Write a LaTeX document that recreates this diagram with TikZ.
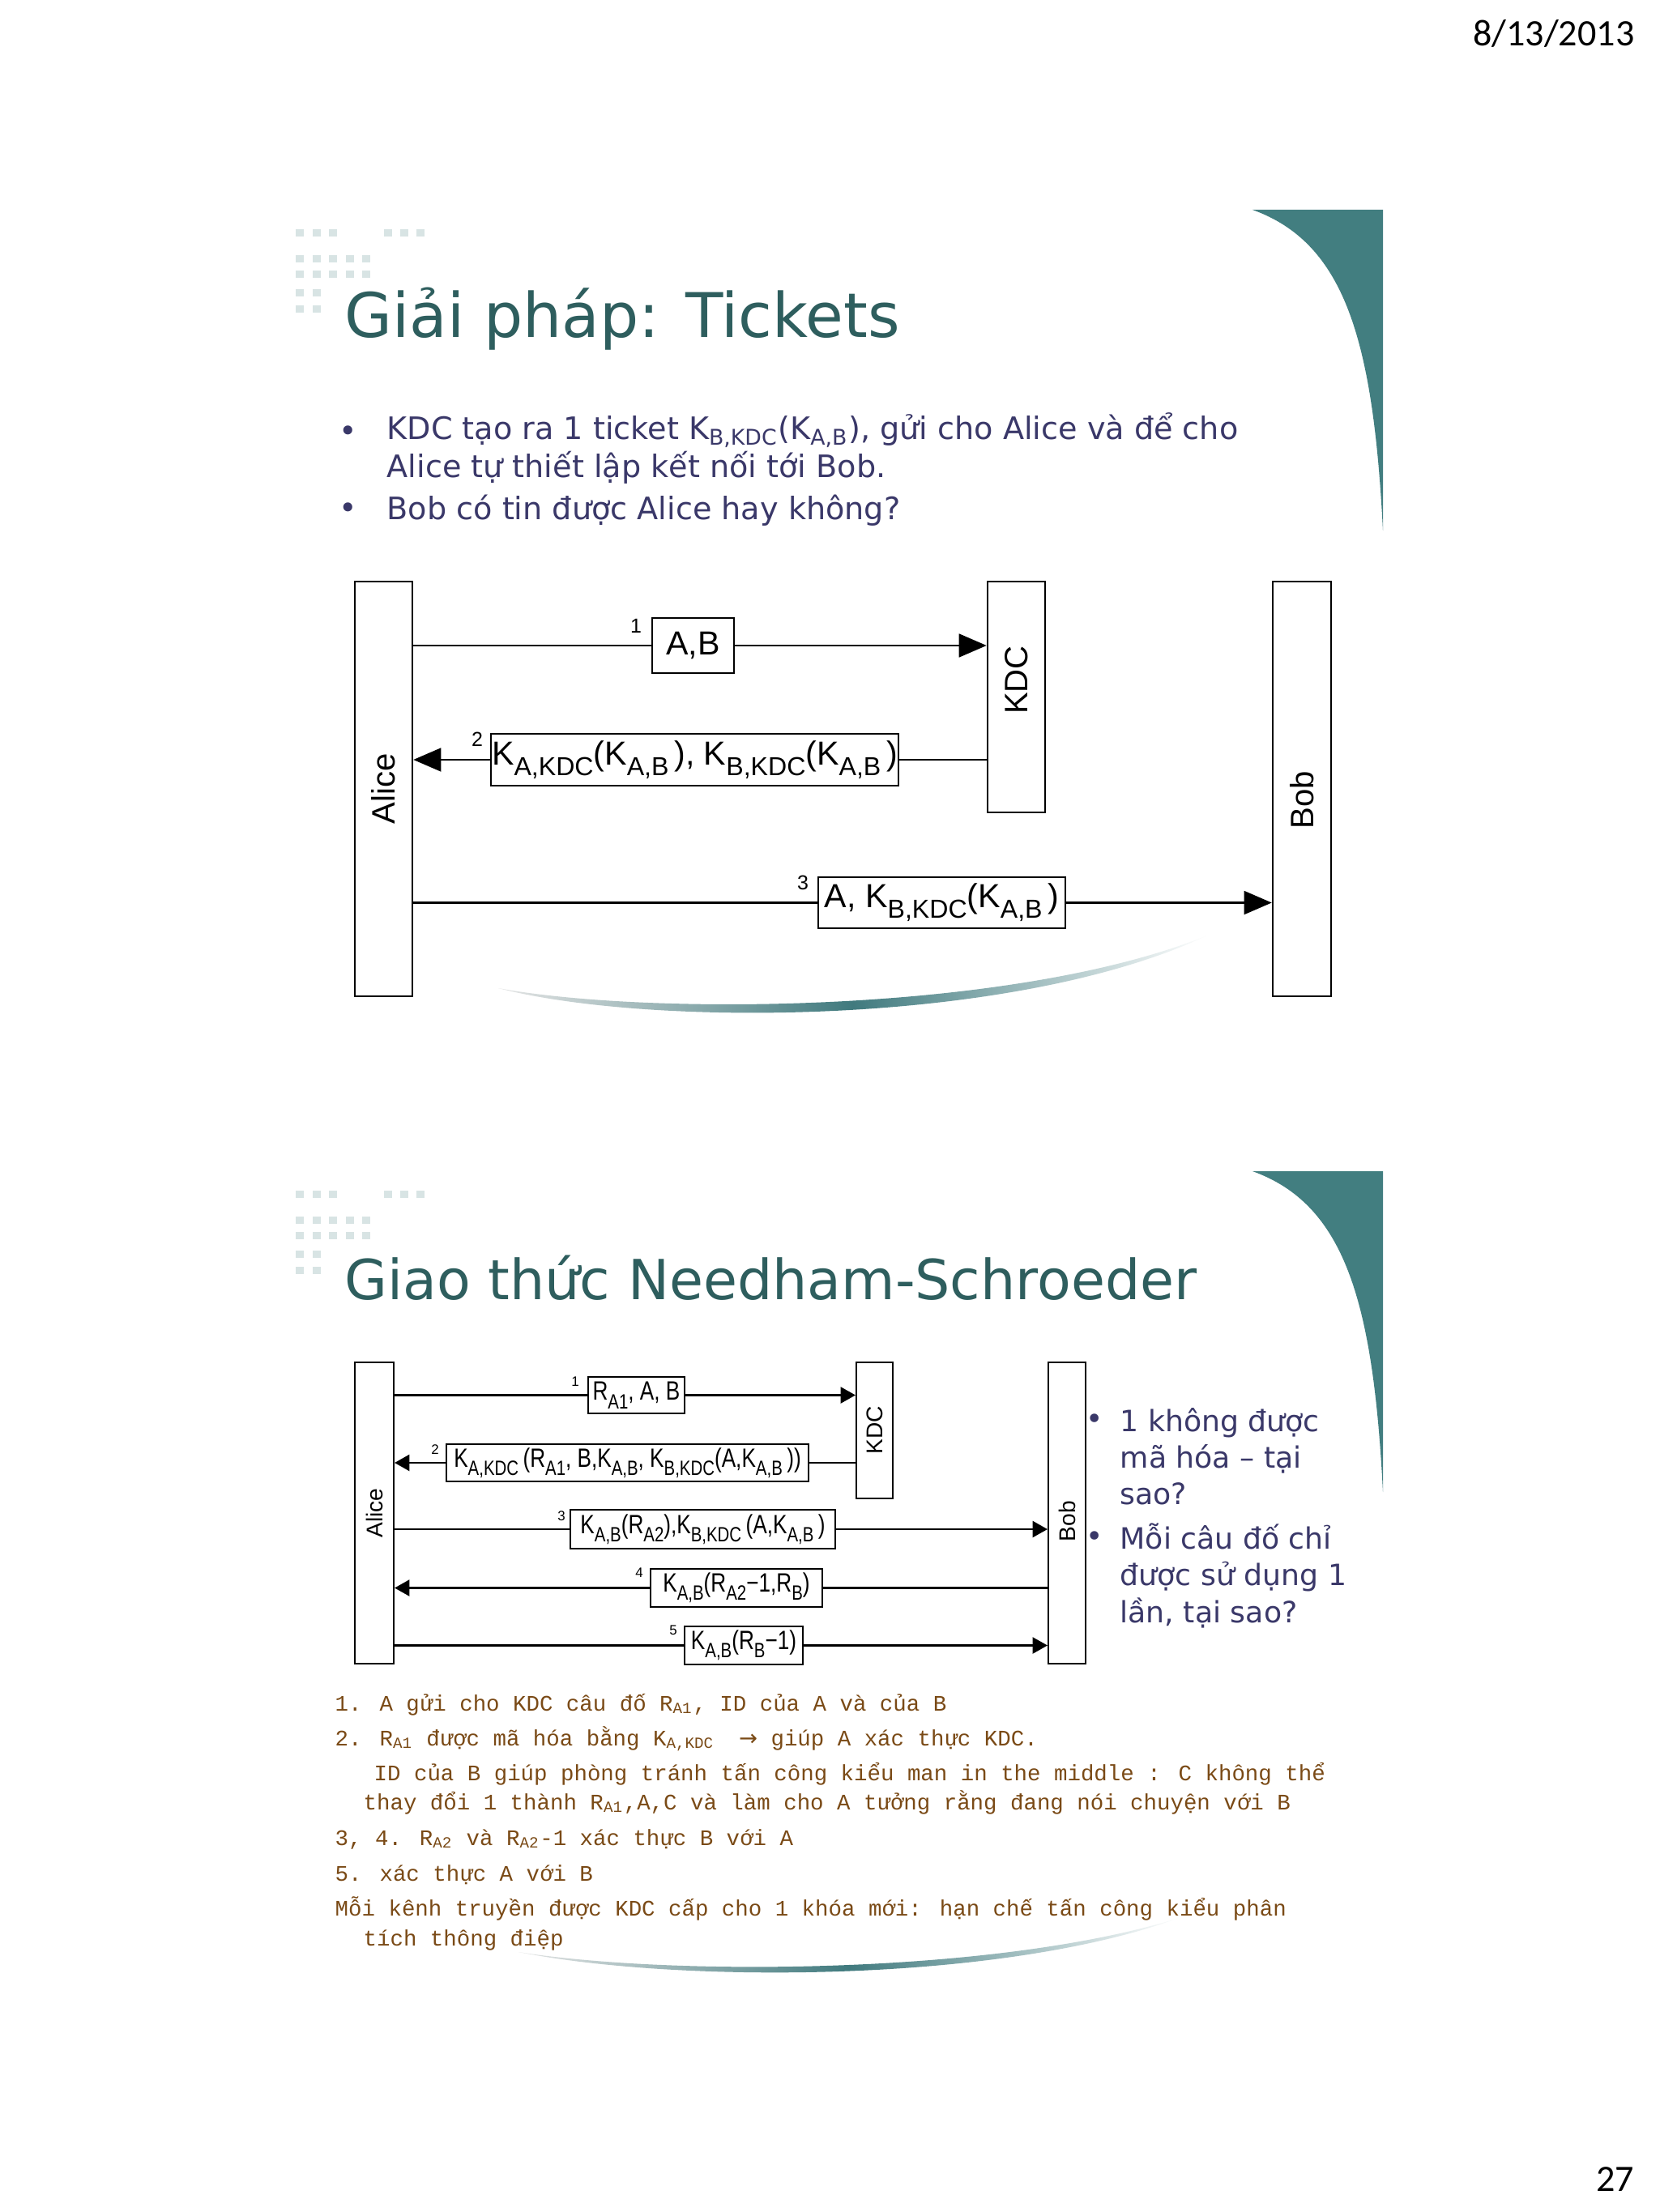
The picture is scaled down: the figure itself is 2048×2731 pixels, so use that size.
\documentclass[tikz,border=0pt]{standalone}
\usepackage{fontspec}
\usetikzlibrary{arrows.meta}
\newfontfamily\slidefont{DejaVu Sans}
\newfontfamily\figfont{Liberation Sans}
\newfontfamily\figfontB[FakeStretch=0.8]{Liberation Sans}
\newfontfamily\notefont{Liberation Mono}
\newfontfamily\datefont{Carlito}
\definecolor{wedgeteal}{RGB}{66,126,128}
\definecolor{dotgray}{RGB}{216,228,228}
\definecolor{swooshteal}{RGB}{64,122,126}
\definecolor{titleteal}{RGB}{46,94,94}
\definecolor{bodyblue}{RGB}{58,56,105}
\definecolor{notebrown}{RGB}{122,74,22}
\newcommand{\fsub}[1]{\raisebox{-0.32em}{\scalebox{0.78}{#1}}}

\begin{document}
\begin{tikzpicture}[x=0.01cm, y=-0.01cm,
  actorA/.style={draw, line width=0.7pt, inner sep=0pt, font=\figfont\fontsize{11.4}{13}\selectfont},
  actorB/.style={draw, line width=0.6pt, inner sep=0pt, font=\figfont\fontsize{8}{9.6}\selectfont},
  msgA/.style={draw, line width=0.7pt, inner sep=0pt, font=\figfont\fontsize{11.7}{14}\selectfont},
  msgB/.style={draw, line width=0.6pt, inner sep=0pt, font=\figfontB\fontsize{9.3}{11}\selectfont},
  numA/.style={inner sep=0pt, font=\figfont\fontsize{7.1}{8}\selectfont},
  numB/.style={inner sep=0pt, font=\figfont\fontsize{4.8}{6}\selectfont},
  lineA/.style={line width=0.7pt, >={Triangle[length=9.7pt,width=8.2pt]}},
  lineB/.style={line width=0.6pt, >={Triangle[length=5.2pt,width=5.7pt]}},
  slidetitle/.style={inner sep=0pt, anchor=base west, text=titleteal},
  bodytext/.style={inner sep=0pt, anchor=base west, text=bodyblue},
  notetext/.style={inner sep=0pt, anchor=base west, text=notebrown, font=\notefont\fontsize{7.8}{9}\selectfont},
  pagenum/.style={inner sep=0pt, anchor=base east, font=\datefont\fontsize{13.1}{15}\selectfont},
  swoosh/.style={left color=black!10, right color=white, middle color=swooshteal}]
\fill[white] (0,0) rectangle (2048,2731);
\useasboundingbox (0,0) rectangle (2048,2731);

% slide decoration
\foreach \dy in {0,1187}{
  \foreach \x in {365,386,406,474,494,514} \fill[dotgray] (\x,283+\dy) rectangle ++(10,9);
  \foreach \x in {365,386,406,427,447} \fill[dotgray] (\x,315+\dy) rectangle ++(10,9);
  \foreach \x in {365,386,406,427,447} \fill[dotgray] (\x,334+\dy) rectangle ++(10,9);
  \foreach \x in {365,386} \fill[dotgray] (\x,357+\dy) rectangle ++(10,9);
  \foreach \x in {365,386} \fill[dotgray] (\x,377+\dy) rectangle ++(10,9);
  \fill[wedgeteal] (1546,259+\dy) -- (1707,259+\dy) -- (1707,655+\dy)
    .. controls (1695,420+\dy) and (1660,300+\dy) .. (1546,259+\dy) -- cycle; %goc phai
}
\shade[swoosh]
  (615,1220) .. controls (800,1268) and (1250,1268) .. (1490,1155)
  .. controls (1250,1252) and (800,1254) .. (615,1220) -- cycle;
\shade[swoosh]
  (640,2410) .. controls (830,2448) and (1230,2450) .. (1455,2368)
  .. controls (1230,2438) and (830,2440) .. (640,2410) -- cycle;

\node[pagenum] (date) at (2018,57) {8/13/2013};
\node[pagenum] (page) at (2018,2705) {27};

% slide 1
\node[slidetitle, font=\slidefont\fontsize{21.6}{26}\selectfont] (title1) at (425,417) {Giải pháp: Tickets};
\node[bodytext, anchor=center, font=\slidefont\fontsize{10.85}{13}\selectfont] (dot1) at (430,536) {•};
\node[bodytext, anchor=center, font=\slidefont\fontsize{10.85}{13}\selectfont] (dot2) at (430,631) {•};
\node[bodytext, font=\slidefont\fontsize{10.85}{13}\selectfont] (b1) at (477,543) {KDC tạo ra 1 ticket K\textsubscript{B,KDC}(K\textsubscript{A,B}), gửi cho Alice và để cho};
\node[bodytext, font=\slidefont\fontsize{10.85}{13}\selectfont] (b2) at (477,590) {Alice tự thiết lập kết nối tới Bob.};
\node[bodytext, font=\slidefont\fontsize{10.85}{13}\selectfont] (b3) at (477,641) {Bob có tin được Alice hay không?};

\node[actorA, minimum width=7.1mm, minimum height=51.2mm] (alice1) at (473.5,974) {\rotatebox{90}{Alice}};
\node[actorA, minimum width=7.1mm, minimum height=28.5mm] (kdc1) at (1254.5,860.5) {\rotatebox{90}{\hspace{4.2mm}KDC}};
\node[actorA, minimum width=7.2mm, minimum height=51.2mm] (bob1) at (1607,974) {\rotatebox{90}{Bob\hspace{2.7mm}}};

\node[msgA, minimum width=10.1mm, minimum height=6.8mm] (m1) at (855.5,797) {A,B};
\node[msgA, minimum width=50.3mm, minimum height=6.4mm] (m2) at (857.5,938) {K\fsub{A,KDC}(K\fsub{A,B}\,), K\fsub{B,KDC}(K\fsub{A,B}\,)};
\node[msgA, minimum width=30.5mm, minimum height=6.3mm] (m3) at (1162.5,1114.5) {A, K\fsub{B,KDC}(K\fsub{A,B}\,)};
\node[numA] (n1) at (785,773) {1};
\node[numA] (n2) at (589,913) {2};
\node[numA] (n3) at (991,1090) {3};

\draw[lineA] (alice1.east |- m1) -- (m1.west); %1
\draw[lineA,->] (m1.east) -- (kdc1.west |- m1);
\draw[lineA] (kdc1.west |- m2) -- (m2.east); %2
\draw[lineA,->] (m2.west) -- (alice1.east |- m2);
\draw[lineA] (alice1.east |- m3) -- (m3.west); %3
\draw[lineA,->] (m3.east) -- (bob1.west |- m3);

% slide 2
\node[slidetitle, font=\slidefont\fontsize{19.4}{23}\selectfont] (title2) at (425,1604) {Giao thức Needham-Schroeder};

\node[actorB, minimum width=4.8mm, minimum height=37.2mm] (alice2) at (462,1868) {\rotatebox{90}{Alice}};
\node[actorB, minimum width=4.5mm, minimum height=16.8mm] (kdc2) at (1079.5,1766) {\rotatebox{90}{KDC}};
\node[actorB, minimum width=4.6mm, minimum height=37.2mm] (bob2) at (1317,1868) {\rotatebox{90}{Bob\hspace{2mm}}};

\node[msgB, minimum width=11.9mm, minimum height=4.5mm] (r1) at (785.5,1722.5) {R\fsub{A1}, A, B};
\node[msgB, minimum width=44.7mm, minimum height=4.6mm] (r2) at (774.5,1806) {K\fsub{A,KDC}\,(R\fsub{A1}, B,K\fsub{A,B}, K\fsub{B,KDC}(A,K\fsub{A,B}\,))};
\node[msgB, minimum width=32.7mm, minimum height=4.8mm] (r3) at (867.5,1888) {K\fsub{A,B}(R\fsub{A2}),K\fsub{B,KDC}\,(A,K\fsub{A,B}\,)};
\node[msgB, minimum width=21.2mm, minimum height=4.7mm] (r4) at (909,1960.5) {K\fsub{A,B}(R\fsub{A2}−1,R\fsub{B})};
\node[msgB, minimum width=14.6mm, minimum height=4.7mm] (r5) at (918,2031.5) {K\fsub{A,B}(R\fsub{B}−1)};
\node[numB] (p1) at (710,1706) {1};
\node[numB] (p2) at (537,1790) {2};
\node[numB] (p3) at (693,1872) {3};
\node[numB] (p4) at (789,1942) {4};
\node[numB] (p5) at (831,2013) {5};

\draw[lineB] (alice2.east |- r1) -- (r1.west); %1
\draw[lineB,->] (r1.east) -- (kdc2.west |- r1);
\draw[lineB] (kdc2.west |- r2) -- (r2.east); %2
\draw[lineB,->] (r2.west) -- (alice2.east |- r2);
\draw[lineB] (alice2.east |- r3) -- (r3.west); %3
\draw[lineB,->] (r3.east) -- (bob2.west |- r3);
\draw[lineB] (bob2.west |- r4) -- (r4.east); %4
\draw[lineB,->] (r4.west) -- (alice2.east |- r4);
\draw[lineB] (alice2.east |- r5) -- (r5.west); %5
\draw[lineB,->] (r5.east) -- (bob2.west |- r5);

\node[bodytext, anchor=center, font=\slidefont\fontsize{10.3}{12}\selectfont] (dot3) at (1351,1755) {•};
\node[bodytext, anchor=center, font=\slidefont\fontsize{10.3}{12}\selectfont] (dot4) at (1351,1900) {•};
\node[bodytext, font=\slidefont\fontsize{10.3}{12}\selectfont] (q1) at (1382,1767) {1 không được};
\node[bodytext, font=\slidefont\fontsize{10.3}{12}\selectfont] (q2) at (1382,1812) {mã hóa – tại};
\node[bodytext, font=\slidefont\fontsize{10.3}{12}\selectfont] (q3) at (1382,1857) {sao?};
\node[bodytext, font=\slidefont\fontsize{10.3}{12}\selectfont] (q4) at (1382,1912) {Mỗi câu đố chỉ};
\node[bodytext, font=\slidefont\fontsize{10.3}{12}\selectfont] (q5) at (1382,1957) {được sử dụng 1};
\node[bodytext, font=\slidefont\fontsize{10.3}{12}\selectfont] (q6) at (1382,2003) {lần, tại sao?};

\node[notetext] (l1) at (413,2112) {1. A gửi cho KDC câu đố R\textsubscript{A1}, ID của A và của B};
\node[notetext] (l2) at (413,2155) {2. R\textsubscript{A1} được mã hóa bằng K\textsubscript{A,KDC}\hspace{1.1em}{\slidefont →} giúp A xác thực KDC.};
\node[notetext] (l3) at (461,2198) {ID của B giúp phòng tránh tấn công kiểu man in the middle : C không thể};
\node[notetext] (l4) at (448,2234) {thay đổi 1 thành R\textsubscript{A1},A,C và làm cho A tưởng rằng đang nói chuyện với B};
\node[notetext] (l5) at (413,2278) {3, 4. R\textsubscript{A2} và R\textsubscript{A2}-1 xác thực B với A};
\node[notetext] (l6) at (413,2322) {5. xác thực A với B};
\node[notetext] (l7) at (413,2365) {Mỗi kênh truyền được KDC cấp cho 1 khóa mới: hạn chế tấn công kiểu phân};
\node[notetext] (l8) at (448,2402) {tích thông điệp};
\end{tikzpicture}
\end{document}
